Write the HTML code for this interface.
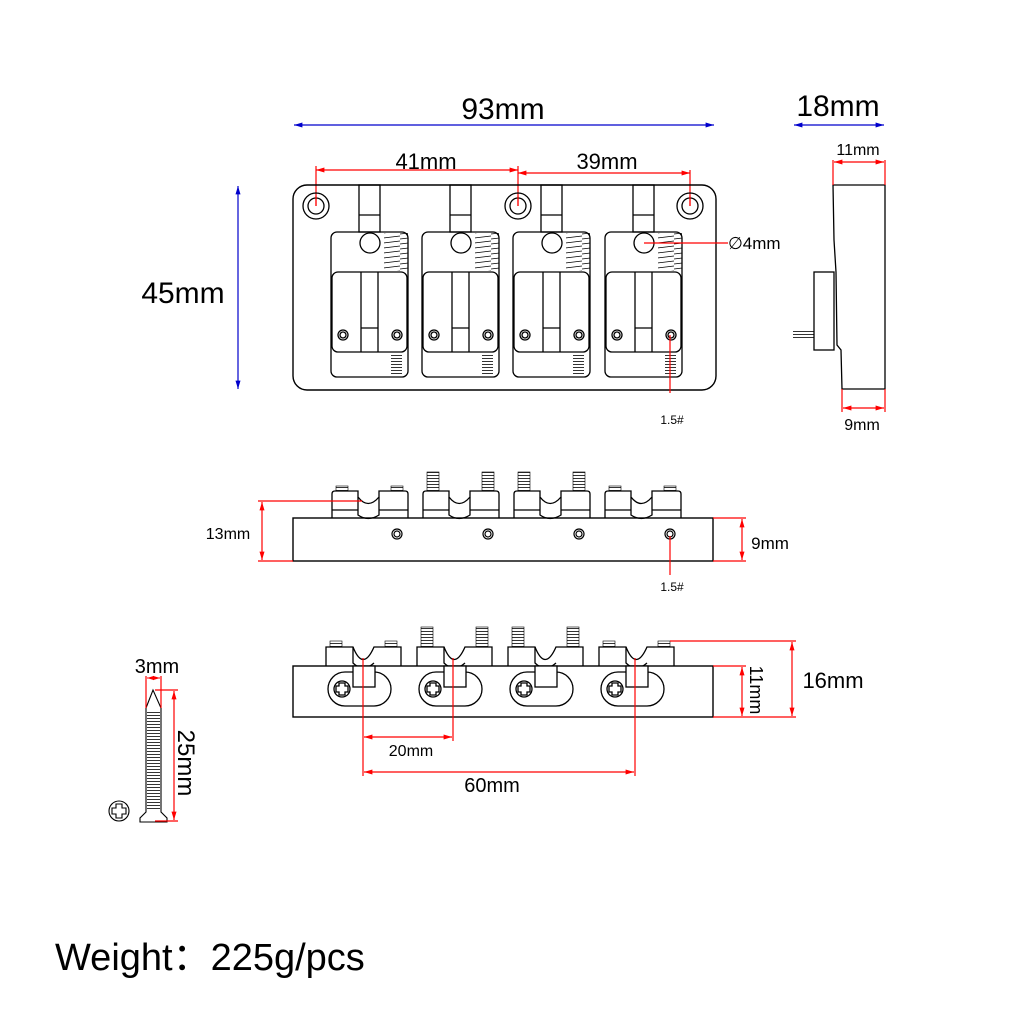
<!DOCTYPE html>
<html><head><meta charset="utf-8"><style>
html,body{margin:0;padding:0;background:#fff;}
svg{display:block;}
text{font-family:"Liberation Sans","DejaVu Sans",sans-serif;fill:#000;}
</style></head><body>
<svg width="1024" height="1024" viewBox="0 0 1024 1024" xmlns="http://www.w3.org/2000/svg">
<defs>
<marker id="ar" viewBox="0 0 10 10" refX="10" refY="5" markerWidth="7" markerHeight="7" orient="auto-start-reverse"><path d="M0,2 L10,5 L0,8z" fill="red"/></marker>
<marker id="ab" viewBox="0 0 10 10" refX="10" refY="5" markerWidth="7" markerHeight="7" orient="auto-start-reverse"><path d="M0,2 L10,5 L0,8z" fill="#00c"/></marker>
<pattern id="spr" width="25" height="5" patternUnits="userSpaceOnUse"><path d="M0,4 L25,1 M8,0 L8,5" stroke="#000" stroke-width="0.8" fill="none"/></pattern>
<pattern id="thr" width="10" height="3" patternUnits="userSpaceOnUse"><path d="M0,1.5 L10,1.5" stroke="#000" stroke-width="0.8"/></pattern>
<g id="unit" fill="none" stroke="#000" stroke-width="1.3">
  <rect x="359" y="185" width="21" height="47"/><line x1="359" y1="215" x2="380" y2="215"/>
  <rect x="331" y="232" width="77" height="145" rx="6"/>
  <circle cx="370" cy="243" r="10" fill="#fff"/>
  <rect x="384" y="233" width="24" height="38" fill="url(#spr)" stroke="none"/>
  <rect x="332" y="272" width="75" height="80" rx="6" fill="#fff"/>
  <line x1="361" y1="272" x2="361" y2="352"/><line x1="378" y1="272" x2="378" y2="352"/>
  <line x1="361" y1="328" x2="378" y2="328"/>
  <circle cx="343" cy="335" r="5"/><circle cx="343" cy="335" r="3"/>
  <circle cx="397" cy="335" r="5"/><circle cx="397" cy="335" r="3"/>
  <rect x="391" y="353" width="11" height="23" fill="url(#thr)" stroke="none"/>
</g>
<g id="mid" fill="none" stroke="#000" stroke-width="1.3">
  <path d="M332,518 V494 Q332,491 335,491 H358 V497 Q368,510 379,497 V491 H405 Q408,491 408,494 V518"/>
  <path d="M358,497 V515 Q368,522 379,515 V497"/>
  <line x1="332" y1="510" x2="358" y2="510"/><line x1="379" y1="510" x2="408" y2="510"/>
</g>
<g id="bot" fill="none" stroke="#000" stroke-width="1.3">
  <path d="M326,666 V647 H353 Q363,672 374,647 H401 V666"/>
  <path d="M353,647 V663 Q363,673 374,663"/>
  <path d="M345,672 H374 A17,17 0 0 1 374,706 H345 A17,17 0 0 1 345,672z"/>
  <rect x="353" y="666" width="22" height="21" fill="#fff"/>
  <circle cx="342" cy="689" r="8"/><path d="M339,683 h6 v3 h3 v6 h-3 v3 h-6 v-3 h-3 v-6 h3z"/>
</g>
</defs>

<!-- top dims -->
<line x1="294" y1="125" x2="714" y2="125" stroke="#00c" stroke-width="1.2" marker-start="url(#ab)" marker-end="url(#ab)"/>
<text x="503" y="119" font-size="30" text-anchor="middle">93mm</text>
<line x1="794" y1="125" x2="884" y2="125" stroke="#00c" stroke-width="1.2" marker-start="url(#ab)" marker-end="url(#ab)"/>
<text x="838" y="116" font-size="30" text-anchor="middle">18mm</text>
<line x1="238" y1="186" x2="238" y2="389" stroke="#00c" stroke-width="1.2" marker-start="url(#ab)" marker-end="url(#ab)"/>
<text x="183" y="303" font-size="30" text-anchor="middle">45mm</text>
<line x1="316" y1="170" x2="518" y2="170" stroke="red" stroke-width="1.2" marker-start="url(#ar)" marker-end="url(#ar)"/>
<text x="426" y="169" font-size="22" text-anchor="middle">41mm</text>
<line x1="518" y1="173" x2="690" y2="173" stroke="red" stroke-width="1.2" marker-start="url(#ar)" marker-end="url(#ar)"/>
<text x="607" y="169" font-size="22" text-anchor="middle">39mm</text>
<g stroke="red" stroke-width="1.2"><line x1="316" y1="166" x2="316" y2="206"/><line x1="518" y1="166" x2="518" y2="206"/><line x1="690" y1="170" x2="690" y2="206"/></g>

<!-- top view -->
<rect x="293" y="185" width="423" height="205" rx="14" fill="none" stroke="#000" stroke-width="1.4"/>
<g fill="none" stroke="#000" stroke-width="1.3">
<circle cx="316" cy="206" r="13"/><circle cx="316" cy="206" r="8"/>
<circle cx="518" cy="206" r="13"/><circle cx="518" cy="206" r="8"/>
<circle cx="690" cy="206" r="13"/><circle cx="690" cy="206" r="8"/>
</g>
<use href="#unit"/><use href="#unit" x="91"/><use href="#unit" x="182"/><use href="#unit" x="274"/>
<g stroke="red" stroke-width="1.2"><line x1="316" y1="196" x2="316" y2="206"/><line x1="518" y1="196" x2="518" y2="206"/><line x1="690" y1="196" x2="690" y2="206"/>
<line x1="644" y1="243" x2="728" y2="243"/><line x1="670" y1="335" x2="670" y2="393"/></g>
<text x="728" y="249" font-size="17">∅4mm</text>
<text x="672" y="424" font-size="12" text-anchor="middle">1.5#</text>

<!-- side view -->
<g fill="none" stroke="#000" stroke-width="1.3">
<path d="M833,185 H885 V389 H842 L841,350 L837,345 L836,272 L834,240z"/>
<rect x="814" y="272" width="20" height="78"/>
<rect x="793" y="329" width="21" height="11" fill="url(#thr)" stroke="none"/>
</g>
<line x1="834" y1="162" x2="884" y2="162" stroke="red" stroke-width="1.2" marker-start="url(#ar)" marker-end="url(#ar)"/>
<g stroke="red" stroke-width="1.2"><line x1="833" y1="160" x2="833" y2="185"/><line x1="885" y1="160" x2="885" y2="185"/><line x1="842" y1="389" x2="842" y2="412"/><line x1="885" y1="389" x2="885" y2="412"/></g>
<text x="858" y="155" font-size="16" text-anchor="middle">11mm</text>
<line x1="843" y1="408" x2="884" y2="408" stroke="red" stroke-width="1.2" marker-start="url(#ar)" marker-end="url(#ar)"/>
<text x="862" y="430" font-size="16" text-anchor="middle">9mm</text>

<!-- middle view -->
<rect x="293" y="518" width="420" height="43" fill="none" stroke="#000" stroke-width="1.4"/>
<use href="#mid"/><use href="#mid" x="91"/><use href="#mid" x="182"/><use href="#mid" x="273"/>
<g fill="url(#thr)" stroke="#000" stroke-width="0.6">
<rect x="336" y="486" width="12" height="5"/><rect x="391" y="486" width="12" height="5"/>
<rect x="427" y="472" width="12" height="19"/><rect x="482" y="472" width="12" height="19"/>
<rect x="518" y="472" width="12" height="19"/><rect x="573" y="472" width="12" height="19"/>
<rect x="609" y="486" width="12" height="5"/><rect x="664" y="486" width="12" height="5"/>
</g>
<g fill="none" stroke="#000" stroke-width="1.2">
<circle cx="397" cy="534" r="5"/><circle cx="397" cy="534" r="3"/>
<circle cx="488" cy="534" r="5"/><circle cx="488" cy="534" r="3"/>
<circle cx="579" cy="534" r="5"/><circle cx="579" cy="534" r="3"/>
<circle cx="670" cy="534" r="5"/><circle cx="670" cy="534" r="3"/>
</g>
<g stroke="red" stroke-width="1.2">
<line x1="258" y1="501" x2="362" y2="501"/><line x1="258" y1="561" x2="293" y2="561"/>
<line x1="713" y1="518" x2="746" y2="518"/><line x1="713" y1="561" x2="746" y2="561"/>
<line x1="670" y1="536" x2="670" y2="575"/>
</g>
<line x1="262" y1="502" x2="262" y2="560" stroke="red" stroke-width="1.2" marker-start="url(#ar)" marker-end="url(#ar)"/>
<text x="228" y="539" font-size="16" text-anchor="middle">13mm</text>
<line x1="742" y1="519" x2="742" y2="560" stroke="red" stroke-width="1.2" marker-start="url(#ar)" marker-end="url(#ar)"/>
<text x="770" y="549" font-size="17" text-anchor="middle">9mm</text>
<text x="672" y="591" font-size="12" text-anchor="middle">1.5#</text>

<!-- bottom view -->
<rect x="293" y="666" width="420" height="51" fill="none" stroke="#000" stroke-width="1.4"/>
<use href="#bot"/><use href="#bot" x="91"/><use href="#bot" x="182"/><use href="#bot" x="273"/>
<g fill="url(#thr)" stroke="#000" stroke-width="0.6">
<rect x="330" y="641" width="12" height="6"/><rect x="385" y="641" width="12" height="6"/>
<rect x="421" y="627" width="12" height="20"/><rect x="476" y="627" width="12" height="20"/>
<rect x="512" y="627" width="12" height="20"/><rect x="567" y="627" width="12" height="20"/>
<rect x="603" y="641" width="12" height="6"/><rect x="658" y="641" width="12" height="6"/>
</g>
<g stroke="red" stroke-width="1.2">
<line x1="363" y1="658" x2="363" y2="776"/><line x1="453" y1="658" x2="453" y2="741"/><line x1="635" y1="658" x2="635" y2="776"/>
<line x1="670" y1="641" x2="796" y2="641"/><line x1="713" y1="666" x2="746" y2="666"/><line x1="713" y1="717" x2="796" y2="717"/>
</g>
<line x1="364" y1="737" x2="452" y2="737" stroke="red" stroke-width="1.2" marker-start="url(#ar)" marker-end="url(#ar)"/>
<text x="411" y="756" font-size="16" text-anchor="middle">20mm</text>
<line x1="364" y1="772" x2="634" y2="772" stroke="red" stroke-width="1.2" marker-start="url(#ar)" marker-end="url(#ar)"/>
<text x="492" y="792" font-size="20" text-anchor="middle">60mm</text>
<line x1="792" y1="642" x2="792" y2="716" stroke="red" stroke-width="1.2" marker-start="url(#ar)" marker-end="url(#ar)"/>
<text x="833" y="688" font-size="22" text-anchor="middle">16mm</text>
<line x1="742" y1="667" x2="742" y2="716" stroke="red" stroke-width="1.2" marker-start="url(#ar)" marker-end="url(#ar)"/>
<text x="0" y="0" font-size="18" text-anchor="middle" transform="translate(750,690) rotate(90)">11mm</text>

<!-- screw -->
<g fill="none" stroke="#000" stroke-width="1.1">
<path d="M146,708 L153,690 L161,708 V812 L167,818 V822 H140 V818 L146,812z"/>
<rect x="147" y="710" width="13" height="100" fill="url(#thr)" stroke="none"/>
<circle cx="119" cy="811" r="10"/><path d="M116,804 h6 v4 h4 v6 h-4 v4 h-6 v-4 h-4 v-6 h4z"/>
</g>
<g stroke="red" stroke-width="1.2">
<line x1="146" y1="676" x2="146" y2="708"/><line x1="161" y1="676" x2="161" y2="708"/>
<line x1="155" y1="690" x2="178" y2="690"/><line x1="155" y1="821" x2="178" y2="821"/>
</g>
<line x1="147" y1="678" x2="160" y2="678" stroke="red" stroke-width="1" marker-start="url(#ar)" marker-end="url(#ar)"/>
<text x="157" y="673" font-size="20" text-anchor="middle">3mm</text>
<line x1="174" y1="691" x2="174" y2="820" stroke="red" stroke-width="1.2" marker-start="url(#ar)" marker-end="url(#ar)"/>
<text x="0" y="0" font-size="24" text-anchor="middle" transform="translate(178,763) rotate(90)">25mm</text>

<text x="55" y="970" font-size="38">Weight：225g/pcs</text>
</svg>
</body></html>
